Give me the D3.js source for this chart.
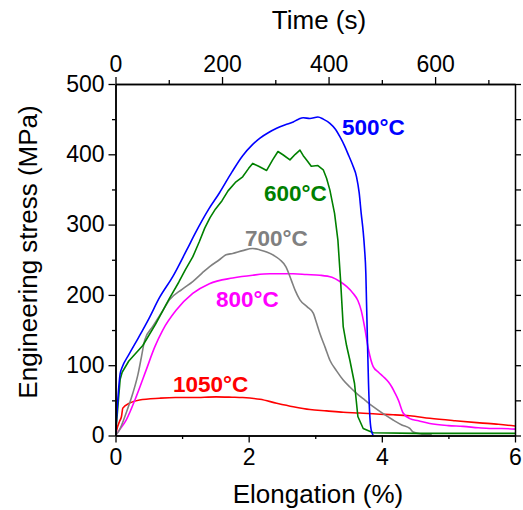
<!DOCTYPE html>
<html><head><meta charset="utf-8">
<script src="https://cdn.jsdelivr.net/npm/d3@7"></script>
<style>body{margin:0;background:#fff}svg{display:block}text{font-family:"Liberation Sans",Arial,sans-serif}</style>
</head><body><div id="chart"></div>
<script>
// ---- data (strain %, stress MPa) ----
const series500 = [[0,0],[0.03,45],[0.07,88],[0.1,97],[0.2,115],[0.35,140],[0.5,166],[0.66,196],[0.86,226],[1.07,264],[1.21,290],[1.4,322],[1.56,345],[1.75,375],[1.91,398],[2.05,413],[2.17,423],[2.3,431],[2.42,437],[2.55,442],[2.67,446],[2.75,450],[2.82,452],[2.92,451],[3.04,453],[3.12,450],[3.22,444],[3.3,436],[3.37,425],[3.44,412],[3.49,401],[3.56,385],[3.62,368],[3.66,345],[3.69,316],[3.72,290],[3.74,266],[3.76,230],[3.77,190],[3.78,150],[3.8,74],[3.82,27],[3.84,8],[3.87,0]];
const series600 = [[0,0],[0.035,40],[0.07,80],[0.1,90],[0.2,106],[0.41,128],[0.6,158],[0.81,195],[0.95,218],[1.05,236],[1.16,254],[1.26,276],[1.34,295],[1.42,310],[1.5,322],[1.6,334],[1.69,348],[1.8,360],[1.91,368],[2.0,380],[2.06,387],[2.15,383],[2.27,377],[2.36,392],[2.44,404],[2.52,399],[2.62,392],[2.7,400],[2.77,406],[2.82,398],[2.87,392],[2.94,383],[3.04,384],[3.12,378],[3.17,366],[3.22,349],[3.29,316],[3.34,278],[3.38,221],[3.42,155],[3.47,128],[3.52,107],[3.59,74],[3.64,27],[3.72,10],[3.87,4],[4.5,3],[5.2,3],[6,3]];
const series700 = [[0,0],[0.06,8],[0.16,32],[0.26,60],[0.34,88],[0.39,112],[0.44,136],[0.56,155],[0.7,176],[0.81,193],[1.0,208],[1.16,219],[1.3,231],[1.41,240],[1.56,250],[1.66,257],[1.76,259],[1.91,263],[2.06,266],[2.17,264],[2.27,261],[2.38,256],[2.47,250],[2.56,240],[2.64,221],[2.7,206],[2.77,193],[2.88,183],[2.97,174],[3.02,160],[3.07,145],[3.15,125],[3.22,107],[3.32,92],[3.42,79],[3.52,69],[3.62,60],[3.75,50],[3.87,41],[4.02,31],[4.17,22],[4.3,15],[4.42,10],[4.47,5],[4.6,2],[4.75,1]];
const series800 = [[0,0],[0.06,8],[0.16,22],[0.31,55],[0.46,93],[0.59,126],[0.71,150],[0.91,178],[1.16,202],[1.41,216],[1.76,224],[2.06,228],[2.32,230],[2.67,230],[2.87,229],[3.07,228],[3.25,225],[3.37,219],[3.47,212],[3.57,202],[3.64,192],[3.69,178],[3.74,155],[3.8,122],[3.87,98],[3.95,90],[4.02,84],[4.1,76],[4.15,69],[4.2,60],[4.25,50],[4.32,32],[4.42,24],[4.55,21],[4.72,17],[5.0,14],[5.22,13],[5.45,11],[5.62,10],[5.8,10],[6,9]];
const series1050 = [[0,0],[0.03,12],[0.06,20],[0.09,27],[0.11,39],[0.21,46],[0.36,50.5],[0.66,53],[0.9,54],[1.16,54],[1.51,55],[1.75,54.5],[1.91,54],[2.17,51.5],[2.42,46],[2.67,41],[2.92,37],[3.17,35],[3.42,33],[3.67,32],[3.92,30.5],[4.17,29.5],[4.42,28],[4.72,24.5],[5.1,21],[5.47,18],[5.75,16],[6,13.5]];
const curves = [
  {label:"1050°C", color:"#ff0000", data:series1050, lx:173, ly:392, smooth:true},
  {label:"800°C", color:"#ff00ff", data:series800, lx:216, ly:307, smooth:true},
  {label:"700°C", color:"#808080", data:series700, lx:245, ly:246, smooth:true},
  {label:"600°C", color:"#008000", data:series600, lx:264, ly:201, smooth:false},
  {label:"500°C", color:"#0000ff", data:series500, lx:342, ly:135, smooth:true}
];
const xTicks = [0,2,4,6], xMinor = [1,3,5];
const yTicks = [0,100,200,300,400,500], yMinor = [50,150,250,350,450];
const tTicks = [0,200,400,600], tMinor = [100,300,500,700];

const W=523,H=510, L=115.5, R=515, T=84, B=435.5;
const svg = d3.select("#chart").append("svg").attr("width",W).attr("height",H);
const x = d3.scaleLinear().domain([0,6]).range([L,R]);
const y = d3.scaleLinear().domain([0,500]).range([B,T]);
const t = d3.scaleLinear().domain([0,750]).range([L,R]);

svg.append("clipPath").attr("id","clip").append("rect").attr("x",L).attr("y",T).attr("width",R-L).attr("height",B-T);
const g = svg.append("g").attr("clip-path","url(#clip)");
curves.forEach(c=>{
  const line = d3.line().x(d=>x(d[0])).y(d=>y(d[1])).curve(c.smooth?d3.curveMonotoneX:d3.curveLinear);
  g.append("path").datum(c.data).attr("d",line).attr("fill","none").attr("stroke",c.color).attr("stroke-width",1.6).attr("stroke-linejoin","round");
});

function styleAxis(sel, fs){
  sel.select(".domain").attr("stroke","#000").attr("stroke-width",1.5);
  sel.selectAll(".tick line").attr("stroke","#000").attr("stroke-width",1.3);
  sel.selectAll("text").attr("font-size",fs).attr("fill","#000").attr("font-family","Liberation Sans, Arial, sans-serif");
}
const fmt = d3.format("d");
// left
const ax1 = svg.append("g").attr("transform",`translate(${L},0)`).call(d3.axisLeft(y).tickValues(yTicks).tickFormat(fmt).tickSize(7).tickPadding(4).tickSizeOuter(0));
styleAxis(ax1,23);
const ax1m = svg.append("g").attr("transform",`translate(${L},0)`).call(d3.axisLeft(y).tickValues(yMinor).tickSize(3.5).tickFormat("").tickSizeOuter(0));
styleAxis(ax1m,0);
// right
const ax2 = svg.append("g").attr("transform",`translate(${R},0)`).call(d3.axisRight(y).tickValues(yTicks.concat(yMinor)).tickSize(6).tickFormat("").tickSizeOuter(0));
styleAxis(ax2,0);
// bottom
const ax3 = svg.append("g").attr("transform",`translate(0,${B})`).call(d3.axisBottom(x).tickValues(xTicks).tickFormat(fmt).tickSize(7).tickPadding(6).tickSizeOuter(0));
styleAxis(ax3,23);
const ax3m = svg.append("g").attr("transform",`translate(0,${B})`).call(d3.axisBottom(x).tickValues(xMinor).tickSize(3.5).tickFormat("").tickSizeOuter(0));
styleAxis(ax3m,0);
// top
const ax4 = svg.append("g").attr("transform",`translate(0,${T})`).call(d3.axisTop(t).tickValues(tTicks).tickFormat(fmt).tickSize(7).tickPadding(5).tickSizeOuter(0));
styleAxis(ax4,23);
const ax4m = svg.append("g").attr("transform",`translate(0,${T})`).call(d3.axisTop(t).tickValues(tMinor).tickSize(4).tickFormat("").tickSizeOuter(0));
styleAxis(ax4m,0);

// titles
svg.append("text").attr("x",318).attr("y",503).attr("text-anchor","middle").attr("font-size",26).text("Elongation (%)");
svg.append("text").attr("x",319).attr("y",29).attr("text-anchor","middle").attr("font-size",26).text("Time (s)");
svg.append("text").attr("transform","translate(37,252) rotate(-90)").attr("text-anchor","middle").attr("font-size",26).text("Engineering stress (MPa)");

// curve labels
curves.forEach(c=>{
  svg.append("text").attr("x",c.lx).attr("y",c.ly).attr("font-size",22.5).attr("font-weight","bold").attr("fill",c.color).text(c.label);
});
</script></body></html>
